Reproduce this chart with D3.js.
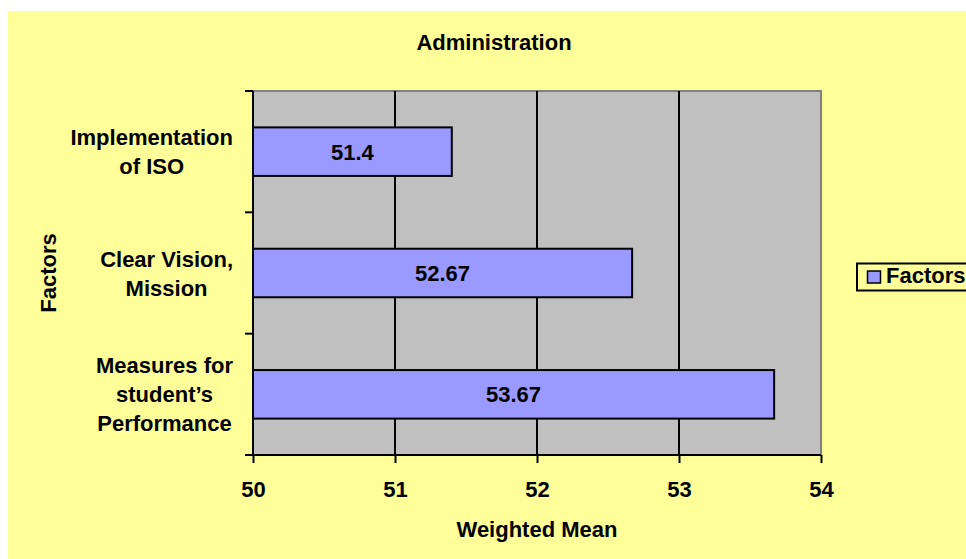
<!DOCTYPE html>
<html><head><meta charset="utf-8">
<script src="https://cdn.jsdelivr.net/npm/d3@7"></script>
<style>
html,body{margin:0;padding:0;background:#fff;}
text{font-family:"Liberation Sans",Arial,sans-serif;font-weight:bold;fill:#000;}
</style></head><body>
<svg id="c" width="966" height="559"></svg>
<script>
const categories = [["Implementation","of ISO"],["Clear Vision,","Mission"],["Measures for","student’s","Performance"]];
const values = [51.4, 52.67, 53.67];
const xTicks = [50, 51, 52, 53, 54];
const title = "Administration";
const xTitle = "Weighted Mean";
const yTitle = "Factors";
const seriesName = "Factors";

const svg = d3.select("#c");
const FS = 22;
svg.append("rect").attr("x",8).attr("y",11).attr("width",958).attr("height",548).attr("fill","#FFFF99");

const L=253, R=821, T=91, B=455;
const x = d3.scaleLinear().domain([50,54]).range([L,R]);
const y = d3.scaleBand().domain(d3.range(categories.length)).range([T,B]).paddingInner(0.6).paddingOuter(0.3);
const band = d3.scaleBand().domain(d3.range(categories.length)).range([T,B]);

svg.append("rect").attr("x",L).attr("y",T).attr("width",R-L).attr("height",B-T).attr("fill","#C0C0C0")
  .attr("stroke","#808080").attr("stroke-width",2);

// gridlines
svg.append("g").selectAll("line").data(xTicks.slice(1,-1)).join("line")
  .attr("x1",d=>x(d)).attr("x2",d=>x(d)).attr("y1",T).attr("y2",B)
  .attr("stroke","#000").attr("stroke-width",2);

// bars
svg.append("g").selectAll("rect").data(values).join("rect")
  .attr("x",L).attr("y",(d,i)=>y(i)).attr("width",d=>x(d)-L).attr("height",y.bandwidth())
  .attr("fill","#9999FF").attr("stroke","#000").attr("stroke-width",2);

svg.append("g").selectAll("text").data(values).join("text")
  .attr("x",d=>(L+x(d))/2).attr("y",(d,i)=>y(i)+y.bandwidth()/2+8)
  .attr("text-anchor","middle").attr("font-size",FS).text(d=>String(d));

// x axis
const xAxis = d3.axisBottom(x).tickValues(xTicks).tickSize(8).tickPadding(18).tickFormat(d3.format("d"));
const gx = svg.append("g").attr("transform",`translate(0,${B})`).call(xAxis);
gx.select(".domain").attr("stroke","#000").attr("stroke-width",2).attr("d",`M${L-8},0H${R}`);
gx.selectAll(".tick line").attr("stroke","#000").attr("stroke-width",2);
gx.selectAll(".tick text").attr("font-size",FS).attr("font-family","Liberation Sans, Arial, sans-serif").attr("font-weight","bold").attr("fill","#000");

// y axis line and ticks at band boundaries
svg.append("line").attr("x1",L).attr("x2",L).attr("y1",T).attr("y2",B+1).attr("stroke","#000").attr("stroke-width",2);
const bounds = d3.range(categories.length+1).map(i=> i<categories.length ? band(i) : B);
svg.append("g").selectAll("line").data(bounds).join("line")
  .attr("x1",L-8).attr("x2",L).attr("y1",d=>d).attr("y2",d=>d).attr("stroke","#000").attr("stroke-width",2);

// category labels
const lh = 29, rightEdge = 233;
categories.forEach((lines,i)=>{
  const cy = band(i)+band.bandwidth()/2;
  const g = svg.append("g");
  const ts = lines.map((ln,j)=> g.append("text").attr("font-size",FS).attr("text-anchor","middle")
     .attr("y", cy + (j-(lines.length-1)/2)*lh + 8).text(ln));
  const maxW = d3.max(ts, t=>t.node().getComputedTextLength());
  ts.forEach(t=>t.attr("x", rightEdge - maxW/2));
});

// titles
svg.append("text").attr("x",494).attr("y",50).attr("text-anchor","middle").attr("font-size",FS).text(title);
svg.append("text").attr("x",(L+R)/2).attr("y",537).attr("text-anchor","middle").attr("font-size",FS).text(xTitle);
svg.append("text").attr("transform",`translate(56,${(T+B)/2}) rotate(-90)`).attr("text-anchor","middle").attr("font-size",FS).text(yTitle);

// legend
const lg = svg.append("g");
lg.append("rect").attr("x",857).attr("y",263.5).attr("width",120).attr("height",27).attr("fill","#FFFF99").attr("stroke","#000").attr("stroke-width",2);
lg.append("rect").attr("x",867.5).attr("y",271).attr("width",13).attr("height",12).attr("fill","#9999FF").attr("stroke","#000").attr("stroke-width",1.5);
lg.append("text").attr("x",886).attr("y",283).attr("font-size",FS).text(seriesName);
</script></body></html>
